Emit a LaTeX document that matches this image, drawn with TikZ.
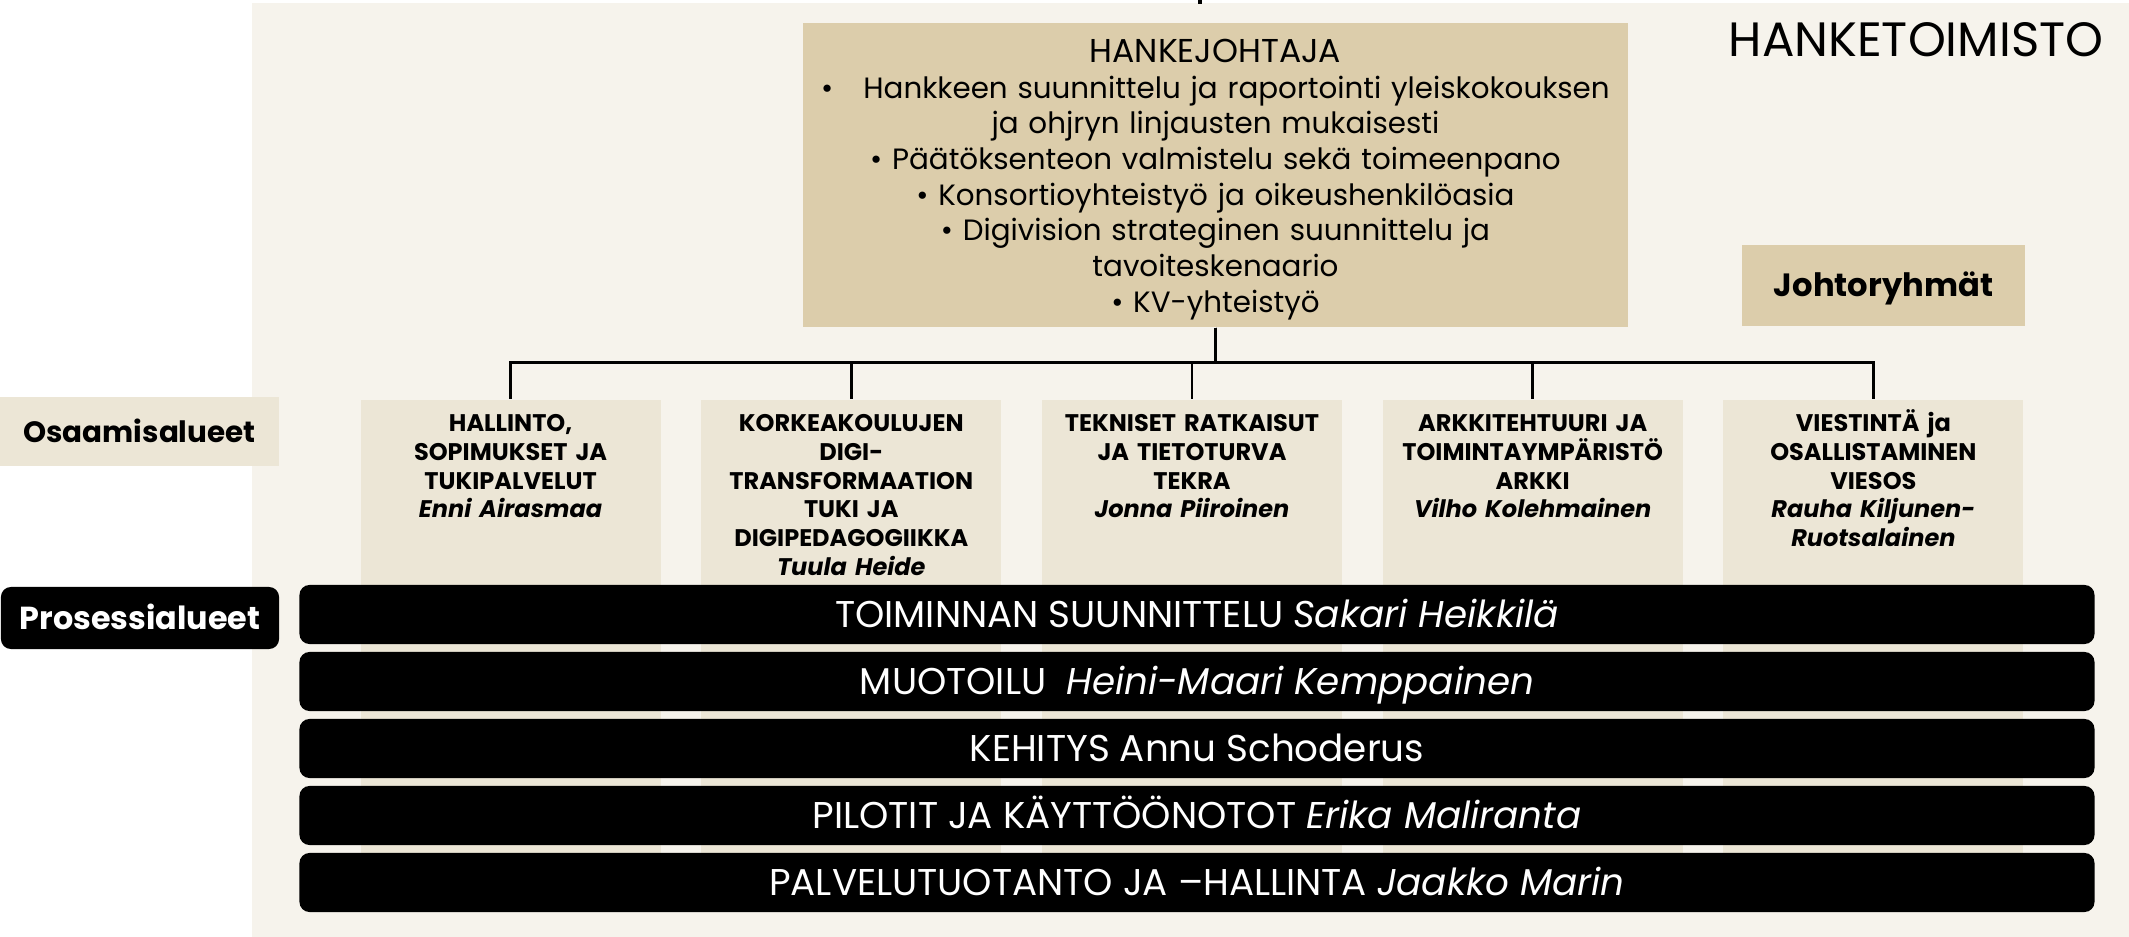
\documentclass[tikz,border=0pt]{standalone}
\usepackage{fontspec}
\setmainfont{Poppins}
\usepackage{xcolor}
\usepackage{tikz}
\definecolor{toimisto}{HTML}{F6F3EC}
\definecolor{johto}{HTML}{DCCDAB}
\definecolor{alue}{HTML}{ECE6D6}

\begin{document}
\begin{tikzpicture}[x=0.01cm, y=-0.01cm,
                    level distance=2.24cm,
                    level 1/.style={sibling distance=3.405cm},
                    edge from parent/.style={draw, line width=0.7pt},
                    edge from parent path={(\tikzparentnode.south) -- ++(0,35) -| (\tikzchildnode.north)},
                    johtobox/.style={fill=johto, inner sep=0pt},
                    aluebox/.style={fill=alue, anchor=north, xshift=-0.235cm, inner sep=0pt,
                                    text width=3cm, align=center,
                                    text height=0.32cm, text depth=4.70cm,
                                    font=\bfseries\fontsize{6.83}{8.17}\selectfont},
                    labelbox/.style={inner sep=0pt, text height=0.22cm, text depth=0pt,
                                     font=\bfseries\fontsize{8.8}{10}\selectfont},
                    prosessi/.style={fill=black, rounded corners=0.1cm, text=white, inner sep=0pt,
                                     minimum width=17.94cm, minimum height=0.59cm,
                                     text height=0.25cm, text depth=0pt,
                                     font=\fontsize{10.6}{12}\selectfont}]
  \useasboundingbox (0,0) rectangle (2129,937);
  \fill[toimisto] (252,3) rectangle (2129,937);
  \coordinate (above) at (1200,0);
  \draw[line width=0.9pt] (above) -- ++(0,4);

  \node[johtobox, anchor=north, text width=8.25cm, align=center,
        text height=0.40cm, text depth=2.64cm,
        font=\fontsize{8.35}{10.13}\selectfont] (hj) at (1215.5,22)
    {{\fontsize{9.4}{10.5}\selectfont HANKEJOHTAJA}\\
     •\hspace{0.3cm}Hankkeen suunnittelu ja raportointi yleiskokouksen\\
     ja ohjryn linjausten mukaisesti\\
     • Päätöksenteon valmistelu sekä toimeenpano\\
     • Konsortioyhteistyö ja oikeushenkilöasia\\
     • Digivision strateginen suunnittelu ja\\
     tavoiteskenaario\\
     • KV-yhteistyö}
    child {
      node[aluebox] (hallinto) {HALLINTO,\\ SOPIMUKSET JA\\ TUKIPALVELUT\\ \textit{Enni Airasmaa}}
    }
    child {
      node[aluebox] (digi) {KORKEAKOULUJEN\\ DIGI-\\ TRANSFORMAATION\\ TUKI JA\\ DIGIPEDAGOGIIKKA\\ \textit{Tuula Heide}}
    }
    child {
      node[aluebox] (tekra) {TEKNISET RATKAISUT\\ JA TIETOTURVA\\ TEKRA\\ \textit{Jonna Piiroinen}}
    }
    child {
      node[aluebox] (arkki) {ARKKITEHTUURI JA\\ TOIMINTAYMPÄRISTÖ\\ ARKKI\\ \textit{Vilho Kolehmainen}}
    }
    child {
      node[aluebox] (viesos) {VIESTINTÄ ja\\ OSALLISTAMINEN\\ VIESOS\\ \textit{Rauha Kiljunen-}\\ \textit{Ruotsalainen}}
    };

  \node[anchor=base east, inner sep=0pt, font=\fontsize{13.7}{16}\selectfont] (toimistolabel) at (2104,57) {HANKETOIMISTO};
  \node[johtobox, labelbox, font=\bfseries\fontsize{9.15}{10}\selectfont,
        minimum width=2.83cm, minimum height=0.81cm] (johtoryhmat) at (1883.5,285.5) {Johtoryhmät};
  \node[labelbox, fill=alue, font=\bfseries\fontsize{8.36}{10}\selectfont,
        minimum width=2.79cm, minimum height=0.69cm] (osaamis) at (139.5,431.5) {Osaamisalueet};
  \node[labelbox, fill=black, text=white, rounded corners=0.1cm, font=\bfseries\fontsize{9.05}{10}\selectfont,
        minimum width=2.78cm, minimum height=0.62cm] (prosessit) at (140,618) {Prosessialueet};

  \node[prosessi] (suunnittelu) at (1197,614.5) {TOIMINNAN SUUNNITTELU \textit{Sakari Heikkilä}};
  \node[prosessi] (muotoilu) at (1197,681.5) {MUOTOILU\ \ \textit{Heini-Maari Kemppainen}};
  \node[prosessi] (kehitys) at (1197,748.5) {KEHITYS Annu Schoderus};
  \node[prosessi] (pilotit) at (1197,815.5) {PILOTIT JA KÄYTTÖÖNOTOT \textit{Erika Maliranta}};
  \node[prosessi] (palvelu) at (1197,882.5) {PALVELUTUOTANTO JA –HALLINTA \textit{Jaakko Marin}};
\end{tikzpicture}
\end{document}
